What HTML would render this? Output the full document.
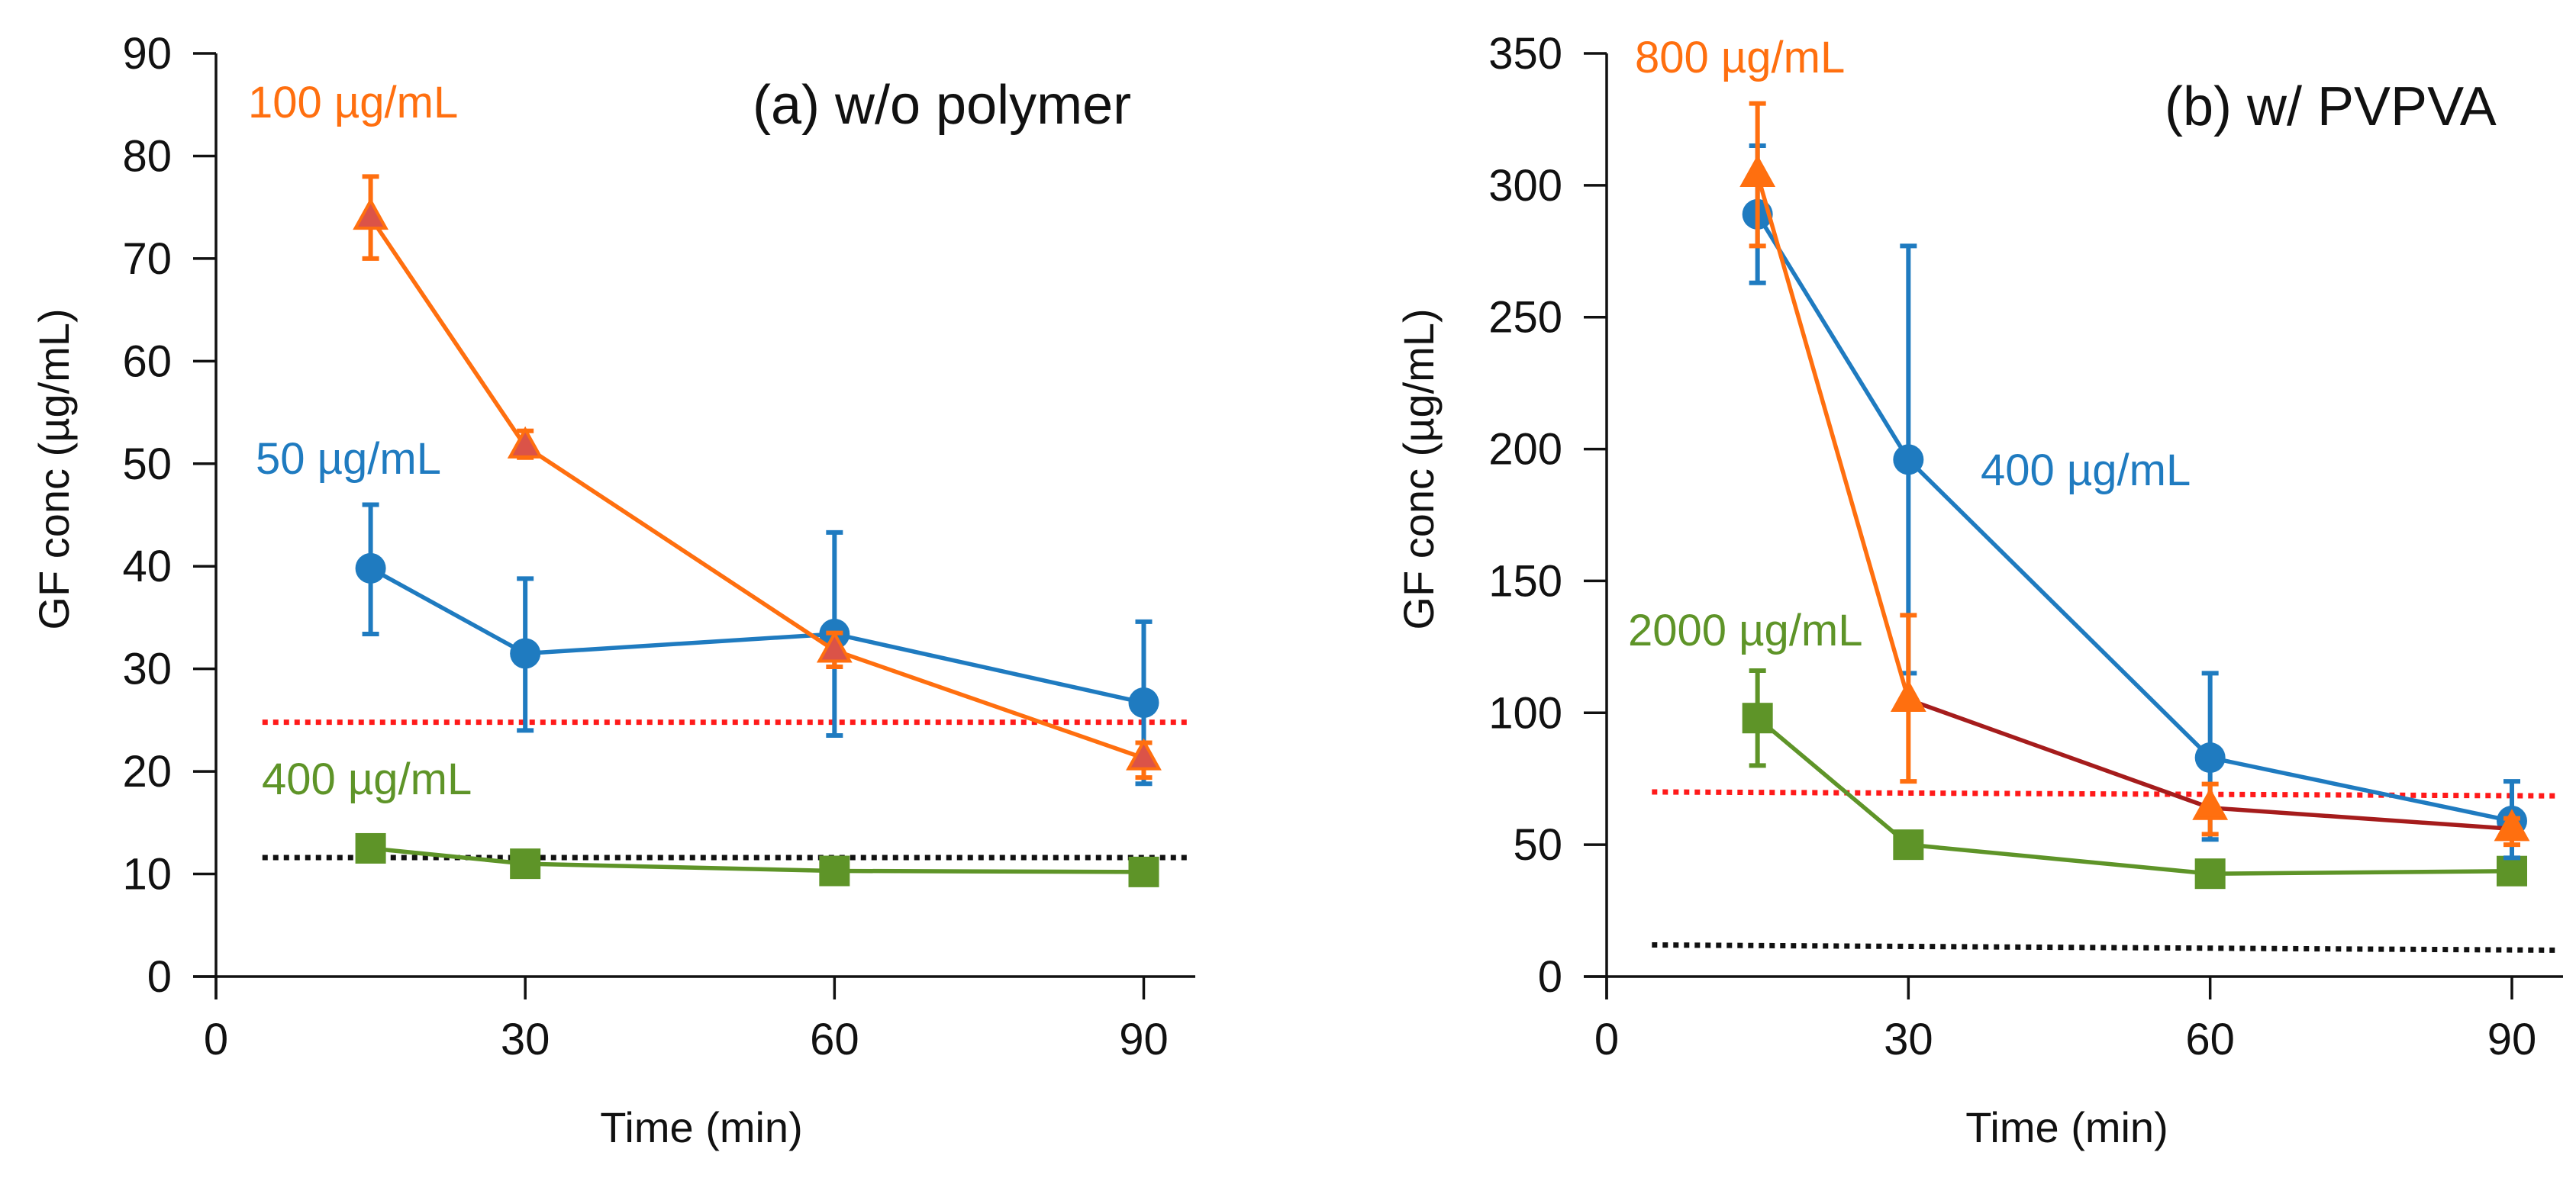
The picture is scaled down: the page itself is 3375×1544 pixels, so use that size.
<!DOCTYPE html>
<html><head><meta charset="utf-8">
<style>
html,body{margin:0;padding:0;background:#fff;}
svg{display:block;font-family:"Liberation Sans","DejaVu Sans",sans-serif;}
</style></head>
<body>
<svg id="chart" width="3375" height="1544" viewBox="0 0 3375 1544"></svg>
<script>
const times = [15, 30, 60, 90];
// Panel a
const aOrange = [74, 51.7, 31.8, 21.3];
const aOrangeHi = [78, 53.2, 33.5, 22.8];
const aOrangeLo = [70, 50.6, 30.2, 19.4];
const aBlue = [39.8, 31.5, 33.4, 26.7];
const aBlueHi = [46, 38.8, 43.3, 34.6];
const aBlueLo = [33.4, 24, 23.5, 18.8];
const aGreen = [12.5, 11, 10.3, 10.2];
const aRedRef = [24.8, 24.8];
const aBlackRef = [11.6, 11.6];
const aYTicks = [0, 10, 20, 30, 40, 50, 60, 70, 80, 90];
// Panel b
const bOrange = [304, 105, 64, 56];
const bOrangeHi = [331, 137, 73, 60];
const bOrangeLo = [277, 74, 54, 50];
const bBlue = [289, 196, 83, 59];
const bBlueHi = [315, 277, 115, 74];
const bBlueLo = [263, 115, 52, 45];
const bGreen = [98, 50, 39, 40];
const bGreenHi = [116, 50, 39, 40];
const bGreenLo = [80, 50, 39, 40];
const bRedRef = [70, 68.5];
const bBlackRef = [12, 10];
const bYTicks = [0, 50, 100, 150, 200, 250, 300, 350];
const xTicks = [0, 30, 60, 90];
const refX = [4.5, 94.5];

const NS = "http://www.w3.org/2000/svg";
const svg = document.getElementById('chart');
function el(tag, attrs, parent, text){
  const e = document.createElementNS(NS, tag);
  for (const k in attrs) e.setAttribute(k, attrs[k]);
  if (text !== undefined) e.textContent = text;
  (parent || svg).appendChild(e);
  return e;
}
const ORANGE = '#FF6F0F', BLUE = '#1F7BC0', GREEN = '#5E9428', DARKRED = '#A51C1C';

function panel(cfg){
  const g = el('g', {});
  
  
  const x0 = cfg.ax, xEnd = cfg.axEnd, yTop = 70, yBot = 1280;
  const xs = v => x0 + v * cfg.pxPer;
  const ys = v => yBot - v / cfg.yMax * (yBot - yTop);
  const ya = el('line', {x1:x0, y1:yTop, x2:x0, y2:yBot+30, stroke:'#111', 'stroke-width':3.5}, g);
  
  
  const xa = el('line', {x1:x0-30, y1:yBot, x2:xEnd, y2:yBot, stroke:'#111', 'stroke-width':3.5}, g);
  
  
  cfg.yTicks.forEach(t => {
    const y = ys(t);
    el('line', {x1:x0-30, y1:y, x2:x0, y2:y, stroke:'#111', 'stroke-width':3.5}, g);
    const tx = el('text', {x:x0-58, y:y+20, 'font-size':58, 'text-anchor':'end', fill:'#111'}, g, t);
    
    
  });
  xTicks.forEach(t => {
    const x = xs(t);
    el('line', {x1:x, y1:yBot, x2:x, y2:yBot+30, stroke:'#111', 'stroke-width':3.5}, g);
    const tx = el('text', {x:x, y:1382, 'font-size':58, 'text-anchor':'middle', fill:'#111'}, g, t);
    
    
  });
  const xt = el('text', {x:cfg.xTitleX, y:1497, 'font-size':56, 'text-anchor':'middle', fill:'#111'}, g, 'Time (min)');
  
  
  const yt = el('text', {x:0, y:0, 'font-size':56, 'text-anchor':'middle', fill:'#111', transform:`translate(${cfg.yTitleX},615) rotate(-90)`}, g, 'GF conc (µg/mL)');
  
  
  const ti = el('text', {x:cfg.titleX, y:cfg.titleY, 'font-size':72, fill:'#111'}, g, cfg.title);
  
  
  const r1 = el('line', {x1:xs(refX[0]), y1:ys(cfg.red[0]), x2:xs(refX[1]), y2:ys(cfg.red[1]), stroke:'#FF1A1A', 'stroke-width':7, 'stroke-dasharray':'7 7'}, g);
  
  
  const r2 = el('line', {x1:xs(refX[0]), y1:ys(cfg.black[0]), x2:xs(refX[1]), y2:ys(cfg.black[1]), stroke:'#111', 'stroke-width':7, 'stroke-dasharray':'7 7'}, g);
  
  

  cfg.series.forEach(s => {
    const sg = el('g', {}, g);
    
    
    for (let i = 0; i < times.length - 1; i++) {
      const c = (s.lineColors && s.lineColors[i]) || s.color;
      const ln = el('line', {x1:xs(times[i]), y1:ys(s.vals[i]), x2:xs(times[i+1]), y2:ys(s.vals[i+1]), stroke:c, 'stroke-width':5.5}, sg);
      
      
    }
    if (s.hi) times.forEach((t, i) => {
      const x = xs(t), yh = ys(s.hi[i]), yl = ys(s.lo[i]);
      if (Math.abs(yh - yl) < 2) return;
      const eb = el('path', {d:`M${x},${yh}V${yl}M${x-11},${yh}H${x+11}M${x-11},${yl}H${x+11}`, stroke:s.color, 'stroke-width':6, fill:'none'}, sg);
      
      
    });
    times.forEach((t, i) => {
      const x = xs(t), y = ys(s.vals[i]);
      let m;
      if (s.marker === 'circle') m = el('circle', {cx:x, cy:y, r:20, fill:s.color}, sg);
      else if (s.marker === 'square') m = el('rect', {x:x-20, y:y-20, width:40, height:40, fill:s.color}, sg);
      else m = el('path', {d:`M${x},${y-22}L${x+20},${y+14}L${x-20},${y+14}Z`, fill:s.fill, stroke:s.color, 'stroke-width':4, 'stroke-linejoin':'miter'}, sg);
      
      
    });
  });
  cfg.labels.forEach(l => {
    const t = el('text', {x:l.x, y:l.y, 'font-size':58, fill:l.c}, g, l.t);
    
    
  });
}

panel({
  name:'panel-a', ax:283, axEnd:1566, pxPer:(1498.5-283)/90, yMax:90, yTicks:aYTicks,
  xTitleX:919, yTitleX:90, title:'(a) w/o polymer', titleX:986, titleY:162,
  red:aRedRef, black:aBlackRef,
  series:[
    {name:'series-400', vals:aGreen, color:GREEN, marker:'square'},
    {name:'series-50', vals:aBlue, hi:aBlueHi, lo:aBlueLo, color:BLUE, marker:'circle'},
    {name:'series-100', vals:aOrange, hi:aOrangeHi, lo:aOrangeLo, color:ORANGE, fill:'#DB5348', marker:'tri'}
  ],
  labels:[{x:325,y:154,t:'100 µg/mL',c:ORANGE},{x:335,y:621,t:'50 µg/mL',c:BLUE},{x:343,y:1041,t:'400 µg/mL',c:GREEN}]
});
panel({
  name:'panel-b', ax:2105, axEnd:3358, pxPer:(3291-2105)/90, yMax:350, yTicks:bYTicks,
  xTitleX:2708, yTitleX:1878, title:'(b) w/ PVPVA', titleX:2836, titleY:164,
  red:bRedRef, black:bBlackRef,
  series:[
    {name:'series-2000', vals:bGreen, hi:bGreenHi, lo:bGreenLo, color:GREEN, marker:'square'},
    {name:'series-400', vals:bBlue, hi:bBlueHi, lo:bBlueLo, color:BLUE, marker:'circle'},
    {name:'series-800', vals:bOrange, hi:bOrangeHi, lo:bOrangeLo, color:ORANGE, fill:ORANGE, marker:'tri', lineColors:[ORANGE, DARKRED, DARKRED]}
  ],
  labels:[{x:2142,y:95,t:'800 µg/mL',c:ORANGE},{x:2595,y:636,t:'400 µg/mL',c:BLUE},{x:2133,y:846,t:'2000 µg/mL',c:GREEN}]
});
</script>
</body></html>
